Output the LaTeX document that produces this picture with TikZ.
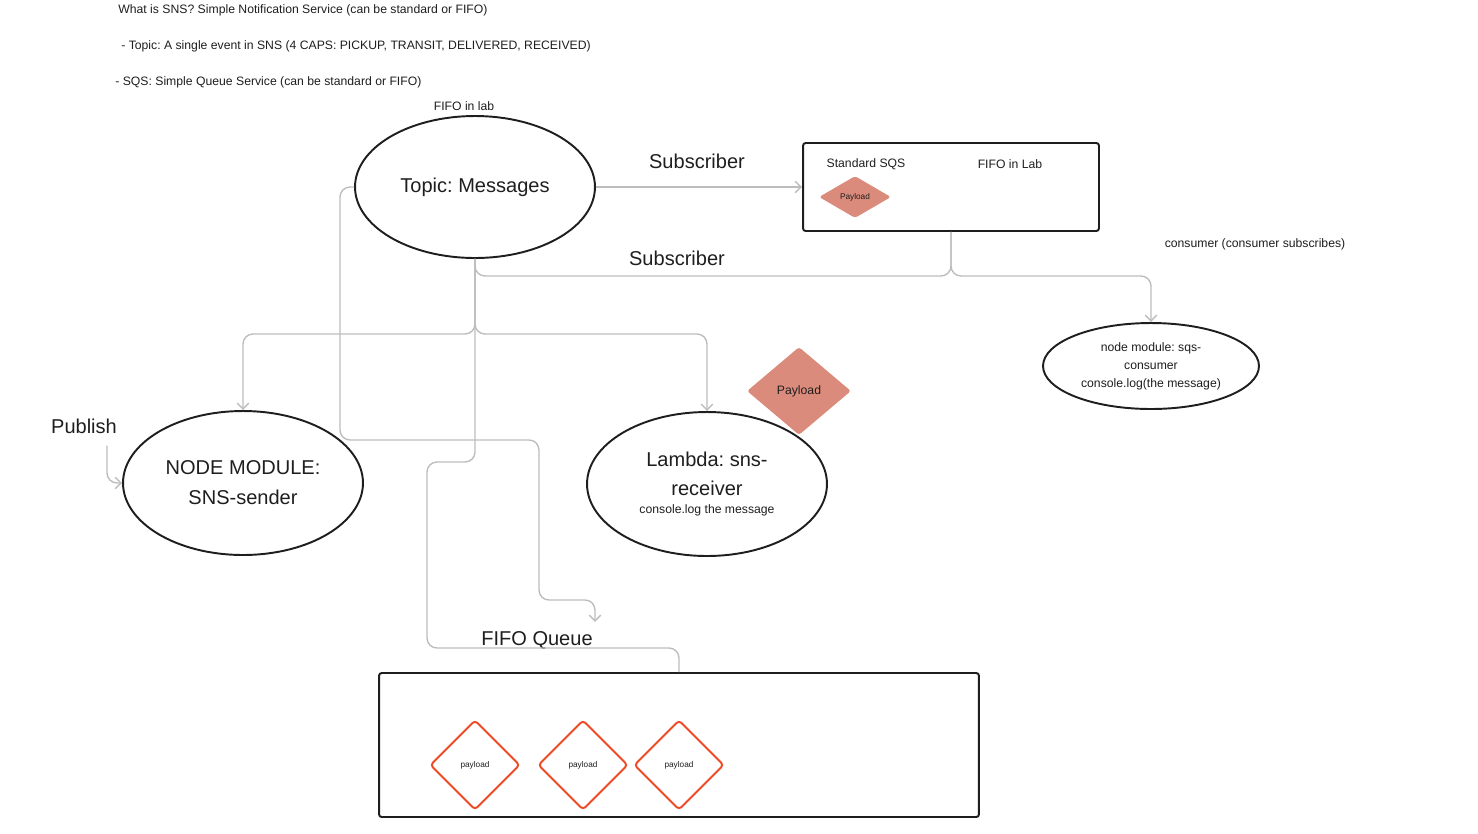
\documentclass[tikz,border=0pt]{standalone}
\usepackage{fontspec}
\setmainfont{Liberation Sans}
\usetikzlibrary{shapes.geometric,arrows.meta}

\definecolor{inkdark}{HTML}{1E1E1E}
\definecolor{linkgray}{HTML}{BDBDBD}
\definecolor{payloadfill}{HTML}{DB8B7B}
\definecolor{queuered}{HTML}{EE4A26}

\newcommand\notefont{\fontsize{6.95pt}{10.2pt}\selectfont}
\newcommand\bigfont{\fontsize{11.4pt}{17pt}\selectfont}
\newcommand\tinyfont{\fontsize{4.7pt}{5.6pt}\selectfont}

\tikzset{
  note/.style={inner sep=0pt,text=inkdark,font=\notefont},
  bigtag/.style={inner sep=0pt,text=inkdark,font=\bigfont},
  bubble/.style={ellipse,draw=inkdark,line width=1.1pt,inner sep=0pt,
    align=center,text=inkdark},
  queuebox/.style={draw=inkdark,line width=1.1pt,rounded corners=1.5pt,
    inner sep=0pt},
  payload/.style={diamond,fill=payloadfill,rounded corners=1.5pt,
    inner sep=0pt,text=inkdark},
  queueitem/.style={diamond,draw=queuered,line width=1.1pt,
    rounded corners=2pt,inner sep=0pt,text=inkdark,font=\tinyfont},
  link/.style={draw=linkgray,line width=0.8pt,rounded corners=0.2cm},
  linktip/.style={-{Straight Barb[length=3.4pt,width=6.5pt]}}
}

\begin{document}
\frenchspacing
\begin{tikzpicture}[x=0.02cm,y=-0.02cm]
  \def\bigw{4.8cm}
  \def\bigh{2.88cm}

  \useasboundingbox (0,0) rectangle (1478,833);

  % notes on top
  \node[note,anchor=west] (whatsns) at (118,10)
      {What is SNS? Simple Notification Service (can be standard or FIFO)};
  \node[note,anchor=west] (topicnote) at (121,46)
      {- Topic: A single event in SNS (4 CAPS: PICKUP, TRANSIT, DELIVERED, RECEIVED)};
  \node[note,anchor=west] (sqsnote) at (115,82)
      {- SQS: Simple Queue Service (can be standard or FIFO)};
  \node[note] (fifolab) at (464,106) {FIFO in lab};

  \node[bubble,minimum width=\bigw,minimum height=2.84cm,font=\bigfont]
      (topic) at (475,187) {Topic: Messages};

  \node[queuebox,minimum width=5.92cm,minimum height=1.76cm] (sqs) at (951,187) {};
  \node[note] (stdsqs) at (866,164) {Standard SQS};
  \node[note] (fifoinlab) at (1010,164) {FIFO in Lab};
  \node[payload,minimum width=1.44cm,minimum height=0.84cm,font=\tinyfont]
      (sqspayload) at (855,197) {Payload};

  \node[bigtag] (subtop) at (697,161) {Subscriber};
  \node[bigtag] (subbottom) at (677,258) {Subscriber};

  \node[note] (consumernote) at (1255,244) {consumer (consumer subscribes)};
  \node[bubble,minimum width=4.32cm,minimum height=1.72cm,font=\notefont]
      (consumer) at (1151,366) {node module: sqs-\\consumer\\console.log(the message)};

  \node[bigtag] (publish) at (84,426) {Publish};
  \node[bubble,minimum width=\bigw,minimum height=\bigh,font=\bigfont]
      (sender) at (243,483) {NODE MODULE:\\SNS-sender};

  \node[bubble,minimum width=\bigw,minimum height=\bigh,font=\bigfont]
      (lambda) at (707,484) {Lambda: sns-\\receiver\\[-6.7pt]{\notefont console.log the message}};
  \node[payload,minimum width=2.08cm,minimum height=1.76cm,font=\notefont]
      (lambdapayload) at (799,391) {Payload};

  \node[bigtag] (fifoqueue) at (537,640) {FIFO Queue};
  \node[queuebox,minimum width=12cm,minimum height=\bigh] (fifo) at (679,745) {};
  \foreach \x [count=\i] in {475,583,679}
    \node[queueitem,minimum size=1.8cm] (item\i) at (\x,765) {payload};

  % connectors
  \coordinate (subsplit) at (sqs.south |- 0,276);
  \coordinate (topicsplit) at (topic.south |- 0,334);
  \coordinate (queueend) at (595,622);

  \draw[link,linktip] (topic.east) -- (sqs.west);
  \draw[link] (sqs.south) -- (subsplit) -| (topic.south);
  \draw[link,linktip] (sqs.south) -- (subsplit) -| (consumer.north);

  \draw[link,linktip] (topic.south) -- (topicsplit) -| (sender.north);
  \draw[link,linktip] (topic.south) -- (topicsplit) -| (lambda.north);
  \draw[link] (topic.south) -- (topicsplit) |- (427,462)
      |- (679,648) -- (fifo.north);

  \draw[link,linktip] (topic.west) -| (340,440) -| (539,600) -| (queueend);

  \draw[link,linktip] ([xshift=0.46cm,yshift=-0.24cm]publish.south) |- (sender.west);
\end{tikzpicture}
\end{document}
